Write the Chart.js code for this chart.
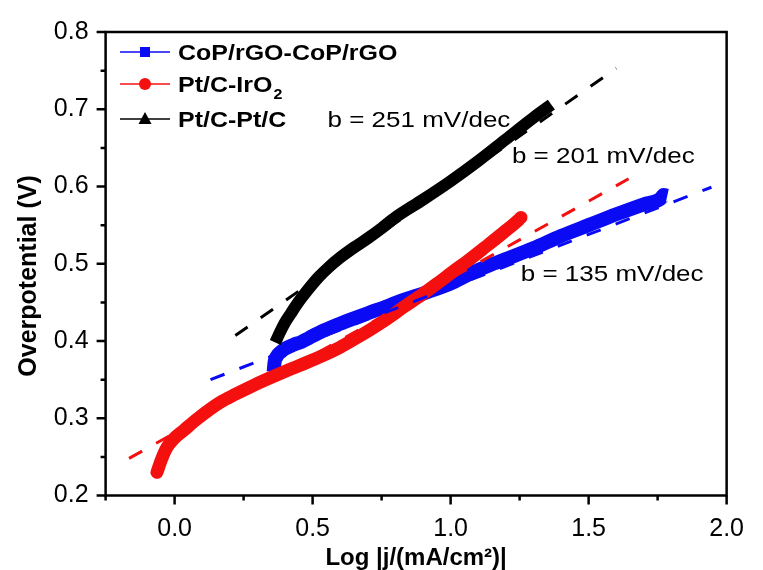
<!DOCTYPE html>
<html><head><meta charset="utf-8">
<script src="https://cdn.jsdelivr.net/npm/chart.js@4.4.1/dist/chart.umd.min.js"></script>
<style>html,body{margin:0;padding:0;background:#fff;}canvas{display:block;}</style>
</head><body>
<canvas id="c" width="763" height="570" style="width:763px;height:570px"></canvas>
<script>
// ---- data ----
const seriesNames = ['CoP/rGO-CoP/rGO', 'Pt/C-IrO\u2082', 'Pt/C-Pt/C'];

const copX = [0.359, 0.362, 0.37, 0.385, 0.40, 0.43, 0.46, 0.487, 0.537, 0.583, 0.64, 0.70, 0.77, 0.82, 0.88, 0.938, 1.009, 1.07, 1.141, 1.2, 1.3, 1.4, 1.5, 1.6, 1.7, 1.76, 1.772, 1.785];
const copY = [0.360, 0.372, 0.380, 0.386, 0.390, 0.395, 0.399, 0.404, 0.413, 0.420, 0.428, 0.436, 0.445, 0.452, 0.459, 0.466, 0.476, 0.487, 0.498, 0.506, 0.520, 0.536, 0.550, 0.564, 0.577, 0.584, 0.589, 0.588];

const irX = [-0.064, -0.046, -0.028, -0.004, 0.032, 0.085, 0.167, 0.22, 0.288, 0.37, 0.45, 0.537, 0.60, 0.654, 0.71, 0.771, 0.83, 0.892, 0.95, 1.009, 1.07, 1.127, 1.19, 1.247, 1.255];
const irY = [0.230, 0.248, 0.262, 0.273, 0.284, 0.300, 0.321, 0.331, 0.343, 0.356, 0.368, 0.381, 0.392, 0.403, 0.415, 0.429, 0.444, 0.459, 0.474, 0.490, 0.506, 0.522, 0.540, 0.557, 0.560];

const ptX = [0.365, 0.38, 0.40, 0.42, 0.45, 0.48, 0.52, 0.56, 0.60, 0.65, 0.70, 0.75, 0.80, 0.90, 1.00, 1.10, 1.20, 1.30, 1.365];
const ptY = [0.398, 0.410, 0.424, 0.435, 0.451, 0.465, 0.482, 0.496, 0.508, 0.521, 0.533, 0.546, 0.560, 0.583, 0.607, 0.633, 0.661, 0.689, 0.706];

// Tafel fit lines (end points)
const fitCopX = [0.13, 1.945];  const fitCopY = [0.350, 0.599];
const fitIrX  = [-0.165, 1.645]; const fitIrY = [0.248, 0.610];
const fitPtX  = [0.22, 1.60];   const fitPtY = [0.407, 0.753];

const slopeLabels = ['b = 251 mV/dec', 'b = 201 mV/dec', 'b = 135 mV/dec'];

const xMajorTicks = [0, 0.5, 1.0, 1.5, 2.0];
const xMinorTicks = [-0.25, 0.25, 0.75, 1.25, 1.75];
const yMajorTicks = [0.2, 0.3, 0.4, 0.5, 0.6, 0.7, 0.8];
const yMinorTicks = [0.25, 0.35, 0.45, 0.55, 0.65, 0.75];

const xTitle = 'Log |j/(mA/cm\u00B2)|';
const yTitle = 'Overpotential (V)';

// ---- styling / placement ----
const FONT = "'Liberation Sans', Arial, sans-serif";
const BLUE = '#0a0af5', RED = '#f51010', BLACK = '#000000';
const slopeLabelPos = [{x: 0.554, y: 0.677}, {x: 1.222, y: 0.631}, {x: 1.254, y: 0.478}];

const pts = (xs, ys) => xs.map((x, i) => ({x, y: ys[i]}));

function drawText(ctx, parts, x, baseline, size, bold, sy) {
  ctx.save();
  ctx.translate(x, baseline);
  ctx.scale(1, sy);
  let cx = 0;
  for (const ch of parts) {
    if (ch.sub) {
      ctx.font = (bold ? 'bold ' : '') + Math.round(size * 0.62) + 'px ' + FONT;
      ctx.fillText(ch.t, cx + 1, size * 0.32);
      cx += ctx.measureText(ch.t).width + 1;
    } else {
      ctx.font = (bold ? 'bold ' : '') + size + 'px ' + FONT;
      ctx.fillText(ch.t, cx, 0);
      cx += ctx.measureText(ch.t).width;
    }
  }
  ctx.restore();
}
function splitSub(name) {
  const out = [];
  const idx = name.indexOf('\u2082');
  if (idx < 0) return [{t: name}];
  out.push({t: name.slice(0, idx)});
  out.push({t: '2', sub: true});
  if (idx + 1 < name.length) out.push({t: name.slice(idx + 1)});
  return out;
}

const decorPlugin = {
  id: 'decor',
  afterDraw(chart) {
    const {ctx, chartArea: a, scales: {x, y}} = chart;
    ctx.save();
    ctx.strokeStyle = '#000';
    ctx.lineWidth = 2.5;
    ctx.strokeRect(a.left, a.top, a.right - a.left, a.bottom - a.top);
    ctx.beginPath();
    for (const v of xMajorTicks) { const p = x.getPixelForValue(v); ctx.moveTo(p, a.bottom); ctx.lineTo(p, a.bottom + 9); }
    for (const v of xMinorTicks) { const p = x.getPixelForValue(v); ctx.moveTo(p, a.bottom); ctx.lineTo(p, a.bottom + 5); }
    for (const v of yMajorTicks) { const p = y.getPixelForValue(v); ctx.moveTo(a.left, p); ctx.lineTo(a.left - 9, p); }
    for (const v of yMinorTicks) { const p = y.getPixelForValue(v); ctx.moveTo(a.left, p); ctx.lineTo(a.left - 5, p); }
    ctx.stroke();

    // y axis title
    ctx.save();
    ctx.translate(29, 276);
    ctx.rotate(-Math.PI / 2);
    ctx.font = 'bold 25px ' + FONT;
    ctx.fillStyle = '#000';
    ctx.textAlign = 'center';
    ctx.textBaseline = 'middle';
    ctx.fillText(yTitle, 0, 0);
    ctx.restore();

    // slope annotations
    ctx.fillStyle = '#000';
    slopeLabels.forEach((t, i) => {
      const px = x.getPixelForValue(slopeLabelPos[i].x);
      const py = y.getPixelForValue(slopeLabelPos[i].y);
      drawText(ctx, [{t}], px, py, 26, false, 0.87);
    });

    // legend
    const colors = [BLUE, RED, BLACK];
    const rowY = [52, 84, 119];
    seriesNames.forEach((name, i) => {
      const cy = rowY[i];
      ctx.strokeStyle = colors[i];
      ctx.lineWidth = 1.3;
      ctx.beginPath(); ctx.moveTo(120, cy); ctx.lineTo(170, cy); ctx.stroke();
      ctx.fillStyle = colors[i];
      ctx.beginPath();
      if (i === 0) ctx.rect(140, cy - 5, 10, 10);
      else if (i === 1) ctx.arc(145, cy, 6, 0, Math.PI * 2);
      else { ctx.moveTo(145, cy - 7); ctx.lineTo(151.5, cy + 5); ctx.lineTo(138.5, cy + 5); ctx.closePath(); }
      ctx.fill();
      ctx.fillStyle = '#000';
      drawText(ctx, splitSub(name), 178, cy + 7.5, 25, true, 0.88);
    });
    ctx.restore();
  }
};

const lineDs = (label, xs, ys, color, width, order, cap) => ({
  label, data: pts(xs, ys), borderColor: color, backgroundColor: color,
  borderWidth: width, pointRadius: 0, showLine: true, order,
  borderCapStyle: cap, borderJoinStyle: 'round', cubicInterpolationMode: 'monotone'
});
const fitDs = (xs, ys, color) => ({
  label: '', data: pts(xs, ys), borderColor: color, borderWidth: 3,
  borderDash: [15, 16], pointRadius: 0, showLine: true, order: 0
});

new Chart(document.getElementById('c'), {
  type: 'scatter',
  data: {
    datasets: [
      fitDs(fitPtX, fitPtY, BLACK),
      fitDs(fitIrX, fitIrY, RED),
      fitDs(fitCopX, fitCopY, BLUE),
      lineDs(seriesNames[2], ptX, ptY, BLACK, 12, 1, 'butt'),
      lineDs(seriesNames[1], irX, irY, RED, 13, 2, 'round'),
      lineDs(seriesNames[0], copX, copY, BLUE, 14, 3, 'butt')
    ]
  },
  options: {
    responsive: false, devicePixelRatio: 1, animation: false,
    layout: {padding: {left: 0, right: 24, top: 25, bottom: 0}},
    plugins: {legend: {display: false}, tooltip: {enabled: false}},
    scales: {
      x: {
        type: 'linear', min: -0.25, max: 2.0,
        grid: {display: false, drawTicks: false},
        border: {display: false},
        ticks: {
          stepSize: 0.25, autoSkip: false, maxRotation: 0, padding: 19,
          color: '#000', font: {family: FONT, size: 25},
          callback: v => (Math.abs(v * 2 - Math.round(v * 2)) < 1e-6 ? v.toFixed(1) : '')
        },
        title: {display: true, text: xTitle, color: '#000',
          font: {family: FONT, size: 24, weight: 'bold', lineHeight: 1}, padding: {top: 0, bottom: 0}},
        afterFit: s => { s.height = 74.5; }
      },
      y: {
        type: 'linear', min: 0.2, max: 0.8,
        grid: {display: false, drawTicks: false},
        border: {display: false},
        ticks: {
          stepSize: 0.1, padding: 17, color: '#000', font: {family: FONT, size: 25},
          callback: v => v.toFixed(1)
        },
        afterFit: s => { s.width = 105.6; }
      }
    }
  },
  plugins: [decorPlugin]
});
</script>
</body></html>
